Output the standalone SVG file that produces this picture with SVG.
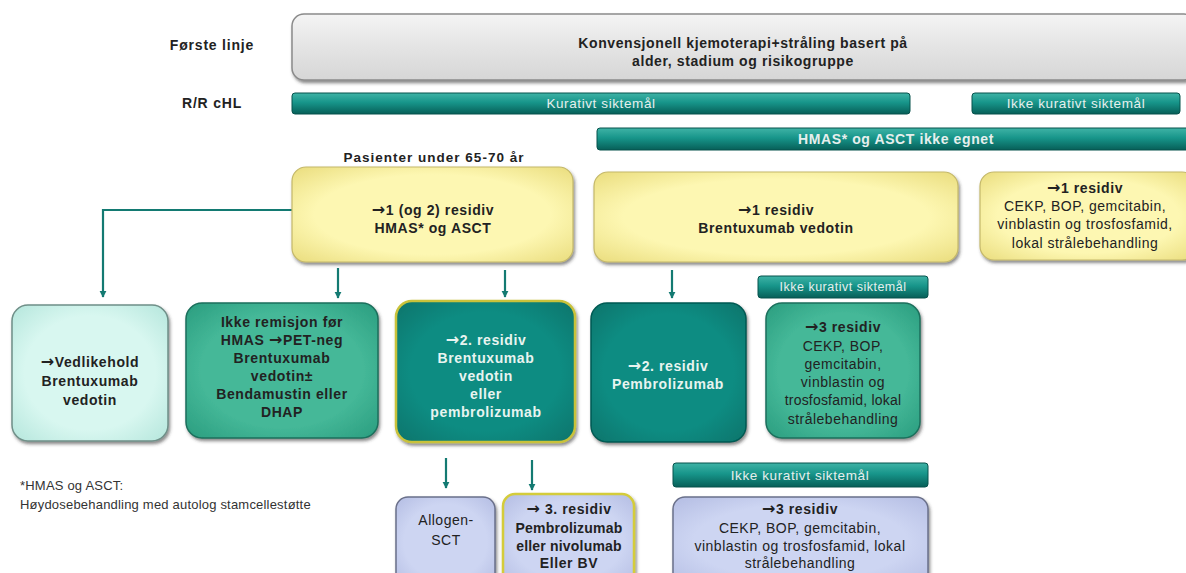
<svg xmlns="http://www.w3.org/2000/svg" width="1186" height="573" viewBox="0 0 1186 573">
<defs>
<linearGradient id="gBar" x1="0" y1="0" x2="0" y2="1">
<stop offset="0" stop-color="#3fb3a6"/><stop offset="0.45" stop-color="#17958a"/><stop offset="1" stop-color="#075f58"/>
</linearGradient>
<linearGradient id="gGray" x1="0" y1="0" x2="0" y2="1">
<stop offset="0" stop-color="#f4f4f4"/><stop offset="0.5" stop-color="#e4e4e4"/><stop offset="1" stop-color="#d6d6d6"/>
</linearGradient>
<radialGradient id="gYel" cx="0.5" cy="0.5" r="0.7">
<stop offset="0.6" stop-color="#fdf7b2"/><stop offset="1" stop-color="#eadd7e"/>
</radialGradient>
<radialGradient id="gMint" cx="0.5" cy="0.5" r="0.7">
<stop offset="0.6" stop-color="#d8f7f0"/><stop offset="1" stop-color="#b5e6dc"/>
</radialGradient>
<radialGradient id="gGreen" cx="0.5" cy="0.5" r="0.7">
<stop offset="0.6" stop-color="#45b898"/><stop offset="1" stop-color="#2a9d7f"/>
</radialGradient>
<radialGradient id="gTeal" cx="0.5" cy="0.5" r="0.7">
<stop offset="0.6" stop-color="#0f8c82"/><stop offset="1" stop-color="#07746b"/>
</radialGradient>
<radialGradient id="gLav" cx="0.5" cy="0.5" r="0.7">
<stop offset="0.6" stop-color="#cdd5f2"/><stop offset="1" stop-color="#b4bde3"/>
</radialGradient>
<filter id="sh" x="-10%" y="-10%" width="125%" height="125%">
<feDropShadow dx="1.5" dy="2.5" stdDeviation="1.8" flood-color="#333" flood-opacity="0.55"/>
</filter>
<marker id="ah" viewBox="0 0 10 10" refX="9" refY="5" markerWidth="3.2" markerHeight="3.2" orient="auto">
<path d="M0,0 L10,5 L0,10 z" fill="#137a72"/>
</marker>
</defs>
<style>
text{font-family:"Liberation Sans",Arial,sans-serif;text-anchor:middle}
.ar{font-family:"DejaVu Sans",sans-serif;font-weight:bold;font-size:16px}
.lab{font-size:14px;font-weight:bold;fill:#222;letter-spacing:0.8px}
.b{font-size:14px;font-weight:bold;fill:#222;letter-spacing:0.6px}
.n{font-size:14px;fill:#222;letter-spacing:0.5px}
.w{font-size:14px;font-weight:bold;fill:#e8f4f0;letter-spacing:0.6px}
.bt{font-size:13.5px;fill:#e6efed;letter-spacing:0.6px}
.btb{font-size:14px;font-weight:bold;fill:#e6efed;letter-spacing:0.6px}
.foot{font-size:13px;fill:#333;text-anchor:start;letter-spacing:0.2px}
.bar{fill:url(#gBar);stroke:#06524c;stroke-width:1}
.conn{stroke:#137a72;stroke-width:2.2;fill:none}
</style>

<text class="lab" x="212" y="50">Første linje</text>
<text class="lab" x="212" y="108">R/R cHL</text>

<g id="first-line">
<rect x="292" y="14" width="904" height="66" rx="12" fill="url(#gGray)" stroke="#8a8a8a" stroke-width="1.5" filter="url(#sh)"/>
<text class="b" x="743" y="48">Konvensjonell kjemoterapi+stråling basert på</text>
<text class="b" x="743" y="66">alder, stadium og risikogruppe</text>
</g>

<g id="bar-kurativt">
<rect class="bar" x="292" y="93" width="618" height="21" rx="3"/>
<text class="bt" x="601" y="108">Kurativt siktemål</text>
</g>
<g id="bar-ikke-kurativt-top">
<rect class="bar" x="972" y="93" width="208" height="21" rx="3"/>
<text class="bt" x="1076" y="108">Ikke kurativt siktemål</text>
</g>
<g id="bar-hmas-ikke-egnet">
<rect class="bar" x="597" y="128" width="600" height="22" rx="3"/>
<text class="btb" x="896" y="144">HMAS* og ASCT ikke egnet</text>
</g>

<text class="b" x="434" y="162" style="font-size:13.5px;letter-spacing:1px">Pasienter under 65-70 år</text>

<g id="connectors">
<polyline class="conn" points="292,210 103,210 103,297" marker-end="url(#ah)"/>
<line class="conn" x1="338" y1="268" x2="338" y2="298" marker-end="url(#ah)"/>
<line class="conn" x1="505" y1="270" x2="505" y2="297" marker-end="url(#ah)"/>
<line class="conn" x1="672" y1="270" x2="672" y2="298" marker-end="url(#ah)"/>
<line class="conn" x1="446" y1="458" x2="446" y2="488" marker-end="url(#ah)"/>
<line class="conn" x1="532" y1="460" x2="532" y2="490" marker-end="url(#ah)"/>
</g>

<g id="y1">
<rect x="292" y="167" width="281" height="95" rx="14" fill="url(#gYel)" stroke="#c4b86a" stroke-width="1.2" filter="url(#sh)"/>
<text class="b" x="433" y="215"><tspan class="ar">→</tspan>1 (og 2) residiv</text>
<text class="b" x="433" y="233">HMAS* og ASCT</text>
</g>
<g id="y2">
<rect x="594" y="172" width="364" height="90" rx="14" fill="url(#gYel)" stroke="#c4b86a" stroke-width="1.2" filter="url(#sh)"/>
<text class="b" x="776" y="215"><tspan class="ar">→</tspan>1 residiv</text>
<text class="b" x="776" y="233">Brentuxumab vedotin</text>
</g>
<g id="y3">
<rect x="980" y="172" width="216" height="88" rx="14" fill="url(#gYel)" stroke="#c4b86a" stroke-width="1.2" filter="url(#sh)"/>
<text class="b" x="1085" y="193"><tspan class="ar">→</tspan>1 residiv</text>
<text class="n" x="1085" y="211">CEKP, BOP, gemcitabin,</text>
<text class="n" x="1085" y="229">vinblastin og trosfosfamid,</text>
<text class="n" x="1085" y="248">lokal strålebehandling</text>
</g>

<g id="vedlikehold">
<rect x="12" y="305" width="156" height="136" rx="16" fill="url(#gMint)" stroke="#6f8f88" stroke-width="1.5" filter="url(#sh)"/>
<text class="b" x="90" y="367"><tspan class="ar">→</tspan>Vedlikehold</text>
<text class="b" x="90" y="386">Brentuxumab</text>
<text class="b" x="90" y="405">vedotin</text>
</g>
<g id="ikke-remisjon">
<rect x="186" y="303" width="192" height="135" rx="16" fill="url(#gGreen)" stroke="#1b6f5c" stroke-width="1.5" filter="url(#sh)"/>
<text class="b" x="282" y="327">Ikke remisjon før</text>
<text class="b" x="282" y="345">HMAS <tspan class="ar">→</tspan>PET-neg</text>
<text class="b" x="282" y="363">Brentuxumab</text>
<text class="b" x="282" y="381">vedotin±</text>
<text class="b" x="282" y="399">Bendamustin eller</text>
<text class="b" x="282" y="417">DHAP</text>
</g>
<g id="r2-bv">
<rect x="396" y="301" width="179" height="141" rx="16" fill="url(#gTeal)" stroke="#c9c23a" stroke-width="2.5" filter="url(#sh)"/>
<text class="w" x="486" y="345"><tspan class="ar">→</tspan>2. residiv</text>
<text class="w" x="486" y="363">Brentuxumab</text>
<text class="w" x="486" y="381">vedotin</text>
<text class="w" x="486" y="399">eller</text>
<text class="w" x="486" y="417">pembrolizumab</text>
</g>
<g id="r2-pembro">
<rect x="591" y="303" width="155" height="139" rx="16" fill="url(#gTeal)" stroke="#055a53" stroke-width="1.5" filter="url(#sh)"/>
<text class="w" x="668" y="371"><tspan class="ar">→</tspan>2. residiv</text>
<text class="w" x="668" y="389">Pembrolizumab</text>
</g>
<g id="bar-ikke-kurativt-mid">
<rect class="bar" x="758" y="276" width="170" height="22" rx="3"/>
<text class="bt" x="843" y="291" style="font-size:12.5px;letter-spacing:0.5px">Ikke kurativt siktemål</text>
</g>
<g id="r3-green">
<rect x="766" y="303" width="154" height="135" rx="16" fill="url(#gGreen)" stroke="#1b6f5c" stroke-width="1.5" filter="url(#sh)"/>
<text class="b" x="843" y="332"><tspan class="ar">→</tspan>3 residiv</text>
<text class="n" x="843" y="351">CEKP, BOP,</text>
<text class="n" x="843" y="369">gemcitabin,</text>
<text class="n" x="843" y="387">vinblastin og</text>
<text class="n" x="843" y="405" style="letter-spacing:0.2px">trosfosfamid, lokal</text>
<text class="n" x="843" y="424">strålebehandling</text>
</g>

<text class="foot" x="20" y="490">*HMAS og ASCT:</text>
<text class="foot" x="20" y="509">Høydosebehandling med autolog stamcellestøtte</text>

<g id="allogen">
<rect x="396" y="497" width="99" height="90" rx="12" fill="url(#gLav)" stroke="#6a708a" stroke-width="1.5" filter="url(#sh)"/>
<text class="n" x="446" y="525">Allogen-</text>
<text class="n" x="446" y="545">SCT</text>
</g>
<g id="r3-pembro">
<rect x="503" y="494" width="131" height="93" rx="12" fill="url(#gLav)" stroke="#d4cc3a" stroke-width="2.5" filter="url(#sh)"/>
<text class="b" x="569" y="514"><tspan class="ar">→</tspan> 3. residiv</text>
<text class="b" x="569" y="533" style="letter-spacing:0.2px">Pembrolizumab</text>
<text class="b" x="569" y="551" style="letter-spacing:0.2px">eller nivolumab</text>
<text class="b" x="569" y="568">Eller BV</text>
</g>
<g id="bar-ikke-kurativt-bottom">
<rect class="bar" x="673" y="463" width="255" height="24" rx="3"/>
<text class="bt" x="800" y="480">Ikke kurativt siktemål</text>
</g>
<g id="r3-lav">
<rect x="673" y="497" width="255" height="90" rx="12" fill="url(#gLav)" stroke="#6a708a" stroke-width="1.5" filter="url(#sh)"/>
<text class="b" x="800" y="514"><tspan class="ar">→</tspan>3 residiv</text>
<text class="n" x="800" y="533">CEKP, BOP, gemcitabin,</text>
<text class="n" x="800" y="551">vinblastin og trosfosfamid, lokal</text>
<text class="n" x="800" y="568">strålebehandling</text>
</g>
</svg>
